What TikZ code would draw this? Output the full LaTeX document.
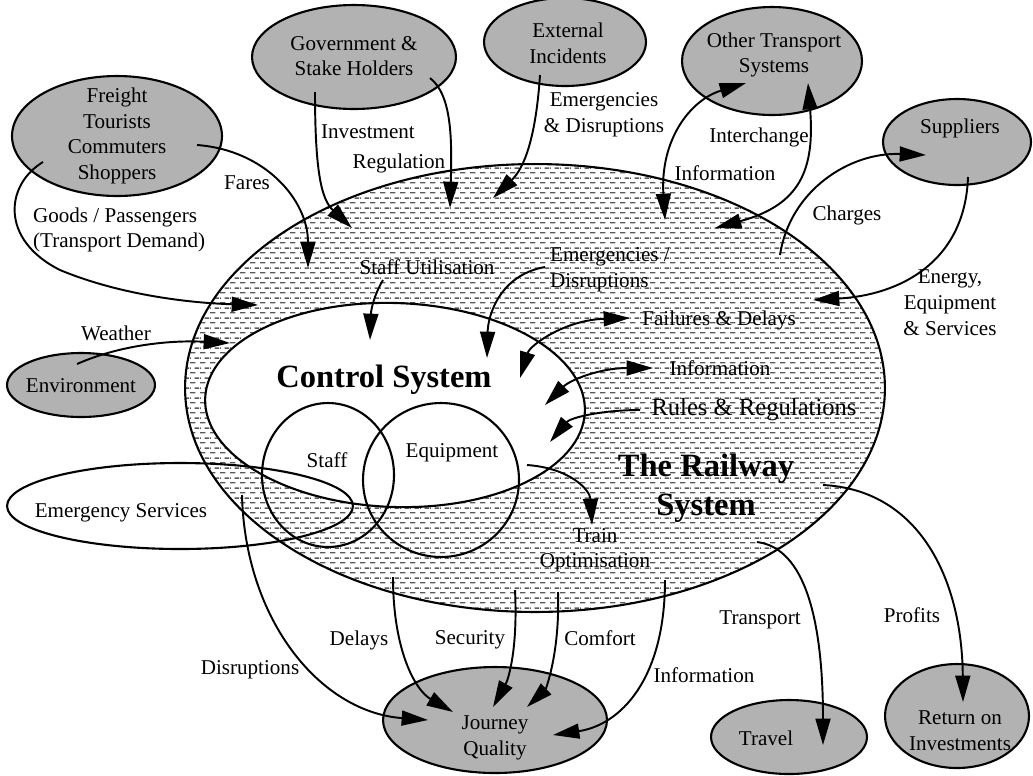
\documentclass[tikz,border=0pt]{standalone}
\usepackage{fontspec}
\setmainfont{Liberation Serif}
\usetikzlibrary{patterns}
\usetikzlibrary{shapes.geometric}
\usetikzlibrary{arrows.meta}
\usetikzlibrary{calc}
\colorlet{extbg}{black!30}
\colorlet{hatch}{black!65}
\pgfdeclarepatternformonly{dashrows}{\pgfpointorigin}{\pgfqpoint{5.7pt}{5.7pt}}{\pgfqpoint{5.7pt}{5.7pt}}{%
  \pgfsetlinewidth{0.9pt}%
  \pgfpathmoveto{\pgfqpoint{0pt}{1.4pt}}\pgfpathlineto{\pgfqpoint{3.4pt}{1.4pt}}%
  \pgfpathmoveto{\pgfqpoint{2.85pt}{4.25pt}}\pgfpathlineto{\pgfqpoint{5.7pt}{4.25pt}}%
  \pgfpathmoveto{\pgfqpoint{0pt}{4.25pt}}\pgfpathlineto{\pgfqpoint{0.55pt}{4.25pt}}%
  \pgfusepath{stroke}}

\begin{document}
\begin{tikzpicture}[x=0.02cm,y=-0.02cm,
    extnode/.style={ellipse,draw,line width=1.2pt,fill=extbg,inner sep=0pt},
    sysnode/.style={ellipse,draw,line width=1.2pt,inner sep=0pt},
    txt/.style={font=\fontsize{12}{14.7}\selectfont,align=center,inner sep=1pt},
    title/.style={font=\fontsize{18.5}{22}\selectfont\bfseries,align=center,inner sep=1pt},
    flow/.style={line width=1.1pt,-{Triangle[length=15pt,width=8.5pt]}},
    twoway/.style={line width=1.1pt,{Triangle[length=15pt,width=8.5pt]}-{Triangle[length=15pt,width=8.5pt]}}]
    \useasboundingbox (0,0) rectangle (1033,775);
    % Railway and control system
    \node[sysnode,pattern=dashrows,pattern color=hatch,
      minimum width=14cm,minimum height=8.96cm] (rail) at (535,388) {};
    \node[sysnode,fill=white,rotate=-2,
      minimum width=7.6cm,minimum height=4.08cm] (ctrl) at (395,405) {};
    \node[sysnode,minimum width=2.64cm,minimum height=2.88cm] (staff) at (328,475) {};
    \node[sysnode,minimum width=3.12cm,minimum height=3.08cm] (equip) at (441,480) {};
    \node[sysnode,minimum width=6.92cm,minimum height=1.72cm] (emerg) at (180,506) {};
    % Outside parties
    \node[extnode,minimum width=4.2cm,minimum height=2.4cm] (freight) at (117,136) {};
    \node[extnode,minimum width=4.08cm,minimum height=2.08cm] (gov) at (354,57) {};
    \node[extnode,minimum width=3.24cm,minimum height=1.76cm] (ext) at (565,42) {};
    \node[extnode,minimum width=3.6cm,minimum height=2.16cm] (other) at (772,61) {};
    \node[extnode,minimum width=2.96cm,minimum height=1.72cm] (suppl) at (957,142) {};
    \node[extnode,minimum width=2.96cm,minimum height=1.28cm] (env) at (81,385) {};
    \node[extnode,minimum width=4.48cm,minimum height=2.12cm] (journey) at (495,720) {};
    \node[extnode,minimum width=3.12cm,minimum height=1.48cm] (travel) at (789,737) {};
    \node[extnode,minimum width=2.88cm,minimum height=2.08cm] (roi) at (957,716) {};
    % Names
    \node[title] (t-ctrl) at (384,380) {Control System};
    \node[title,font=\fontsize{18.5}{22.5}\selectfont\bfseries] (t-rail) at (706,488) {The Railway\\System};
    \node[txt] (t-staff) at (327,460) {Staff};
    \node[txt] (t-equip) at (452,453) {Equipment};
    \node[txt] (t-emerg) at (121,513) {Emergency Services};
    \node[txt] (t-freight) at (117,136) {Freight\\Tourists\\Commuters\\Shoppers};
    \node[txt] (t-gov) at (354,56) {Government \&\\Stake Holders};
    \node[txt] (t-ext) at (568,43) {External\\Incidents};
    \node[txt] (t-other) at (774,55) {Other Transport\\Systems};
    \node[txt] (t-suppl) at (960,128) {Suppliers};
    \node[txt] (t-env) at (81,386) {Environment};
    \node[txt] (t-journey) at (495,738) {Journey\\Quality};
    \node[txt] (t-travel) at (766,738) {Travel};
    \node[txt] (t-roi) at (960,731) {Return on\\Investments};
    % Flows in
    \draw[flow] ($(freight)+(80,9)$) .. controls (265,150) and (308,200) .. ($(rail)+(-227,-120)$);
    \draw[flow] ($(freight)+(-74,26)$) .. controls (5,185) and (0,240) .. (60,270)
      .. controls (120,295) and (190,303) .. ($(rail)+(-277,-83)$);
    \draw[flow] ($(gov)+(-39,35)$) .. controls (315,175) and (322,200) .. ($(rail)+(-183,-160)$);
    \draw[flow] ($(gov)+(76,21)$) .. controls (452,95) and (452,140) .. ($(rail)+(-85,-180)$);
    \draw[flow] ($(ext)+(-25,33)$) .. controls (535,150) and (520,172) .. ($(rail)+(-42,-190)$);
    \draw[twoway] ($(rail)+(130,-168)$) .. controls (660,140) and (690,100) .. ($(other)+(-26,22)$);
    \draw[twoway] ($(other)+(36,22)$) .. controls (815,170) and (800,205) .. ($(rail)+(180,-160)$);
    \draw[flow] ($(rail)+(245,-133)$) .. controls (790,190) and (850,152) .. ($(suppl)+(-31,13)$);
    \draw[flow] ($(suppl)+(11,35)$) .. controls (965,262) and (900,295) .. ($(rail)+(278,-88)$);
    \draw[flow] ($(env)+(-4,-21)$) .. controls (120,345) and (170,340) .. ($(rail)+(-305,-45)$);
    % Flows inside
    \draw[flow] ($(rail)+(-152,-108)$) .. controls (374,295) and (371,310) .. ($(ctrl)+(-25,-65)$);
    \draw[flow] ($(rail)+(10,-121)$) .. controls (500,275) and (488,315) .. ($(ctrl)+(92,-47)$);
    \draw[twoway] ($(ctrl)+(125,-27)$) .. controls (530,345) and (565,320) .. ($(rail)+(95,-70)$);
    \draw[twoway] ($(ctrl)+(150,0)$) .. controls (570,380) and (600,368) .. ($(rail)+(118,-20)$);
    \draw[flow] ($(rail)+(105,22)$) .. controls (600,410) and (570,418) .. ($(ctrl)+(155,37)$);
    \draw[flow] ($(equip)+(86,-15)$) .. controls (570,468) and (590,490) .. ($(rail)+(57,137)$);
    % Flows out
    \draw[flow] ($(emerg)+(62,-11)$) .. controls (245,620) and (320,712) .. ($(journey)+(-67,0)$);
    \draw[flow] ($(rail)+(-142,189)$) .. controls (393,650) and (415,690) .. ($(journey)+(-42,-8)$);
    \draw[flow] ($(rail)+(-20,202)$) .. controls (518,650) and (508,680) .. ($(journey)+(-2,-13)$);
    \draw[flow] ($(rail)+(23,204)$) .. controls (560,655) and (545,690) .. ($(journey)+(32,-13)$);
    \draw[flow] ($(rail)+(130,192)$) .. controls (665,680) and (620,725) .. ($(journey)+(58,15)$);
    \draw[flow] ($(rail)+(222,154)$) .. controls (805,548) and (823,620) .. ($(travel)+(34,8)$);
    \draw[flow] ($(rail)+(288,97)$) .. controls (920,490) and (962,580) .. ($(roi)+(6,-14)$);
    % Labels
    \node[txt] (l-fares) at (247,183) {Fares};
    \node[txt,align=left,anchor=west] (l-goods) at (31,230) {Goods / Passengers\\(Transport Demand)};
    \node[txt] (l-invest) at (368,132) {Investment};
    \node[txt] (l-regul) at (399,163) {Regulation};
    \node[txt] (l-incid) at (604,115) {Emergencies\\\& Disruptions};
    \node[txt] (l-inter) at (759,137) {Interchange};
    \node[txt] (l-info1) at (725,173) {Information};
    \node[txt] (l-charge) at (847,215) {Charges};
    \node[txt] (l-energy) at (950,303) {Energy,\\Equipment\\\& Services};
    \node[txt] (l-weather) at (116,333) {Weather};
    \node[txt] (l-util) at (427,267) {Staff Utilisation};
    \node[txt,align=left,anchor=west] (l-disr1) at (548,270) {Emergencies /\\Disruptions};
    \node[txt] (l-fail) at (719,320) {Failures \& Delays};
    \node[txt] (l-info2) at (720,368) {Information};
    \node[txt,font=\fontsize{14}{16}\selectfont] (l-rules) at (754,410) {Rules \& Regulations};
    \node[txt,font=\fontsize{12}{14}\selectfont] (l-train) at (595,550) {Train\\Optimisation};
    \node[txt] (l-delay) at (359,640) {Delays};
    \node[txt] (l-secur) at (470,640) {Security};
    \node[txt] (l-comf) at (600,638) {Comfort};
    \node[txt] (l-disr2) at (250,670) {Disruptions};
    \node[txt] (l-info3) at (704,675) {Information};
    \node[txt] (l-transp) at (760,620) {Transport};
    \node[txt] (l-profit) at (912,615) {Profits};
\end{tikzpicture}
\end{document}
